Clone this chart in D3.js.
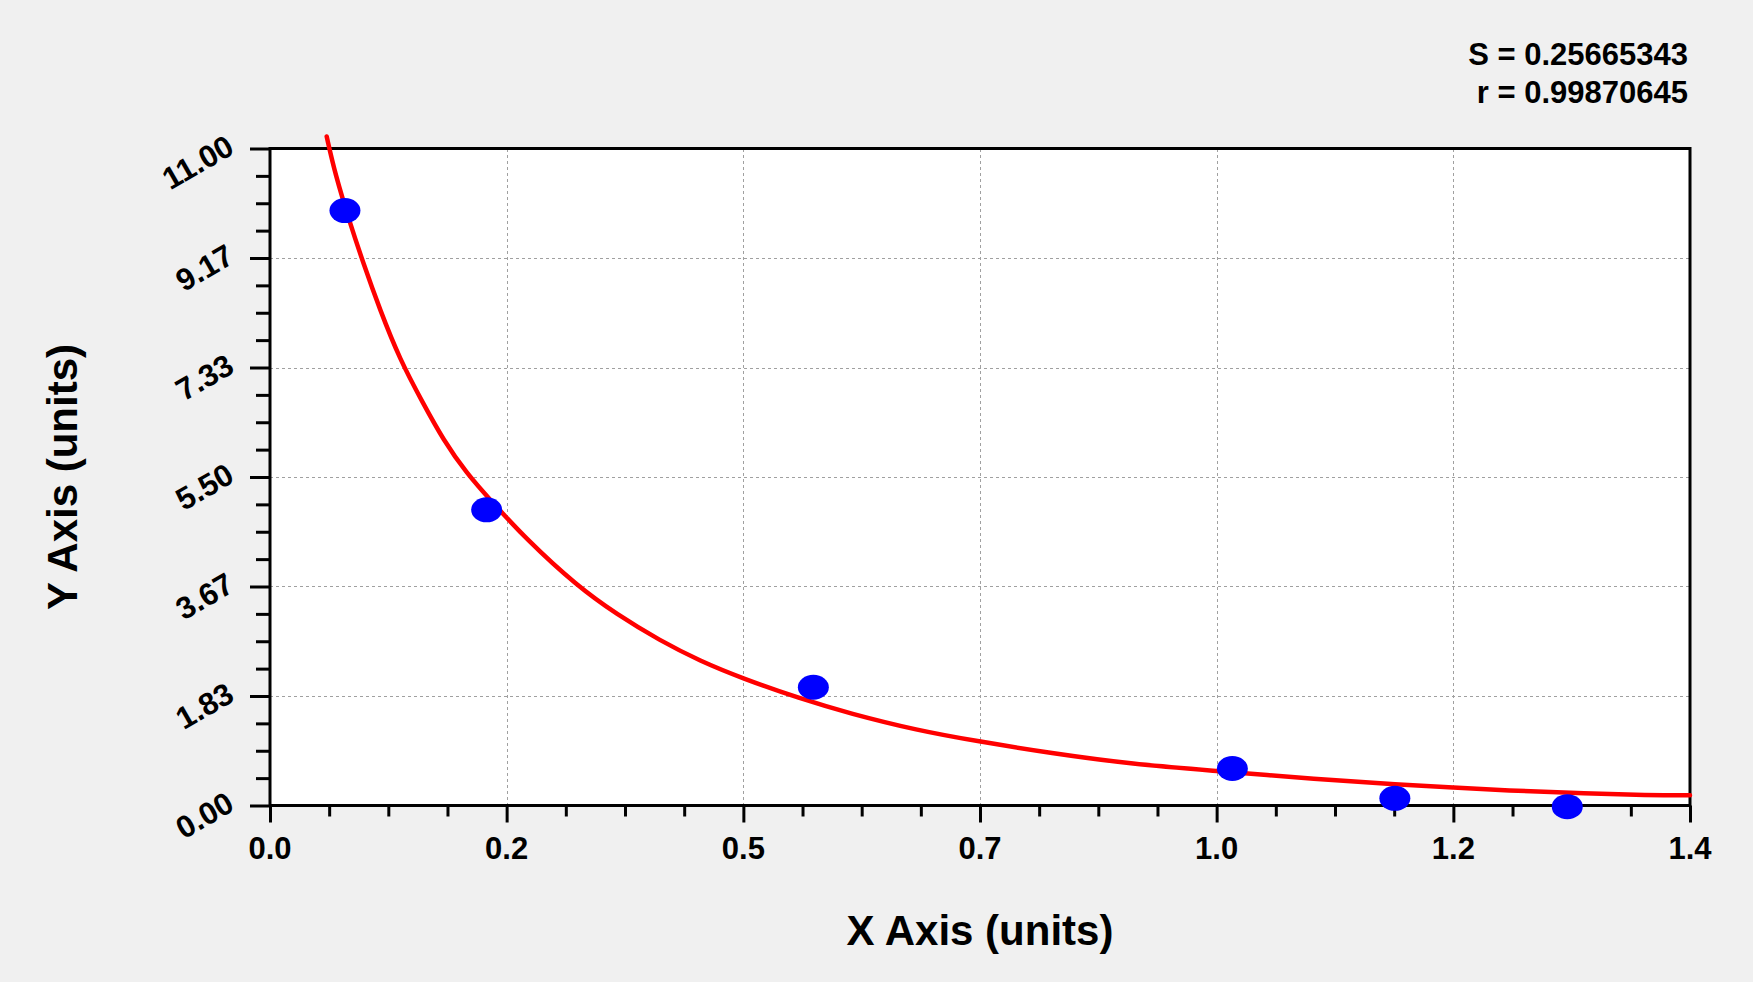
<!DOCTYPE html>
<html>
<head>
<meta charset="utf-8">
<script src="https://cdn.jsdelivr.net/npm/d3@7"></script>
<style>
  html, body { margin: 0; padding: 0; background: #f0f0f0; }
  svg { display: block; }
  text { font-family: Arial, "Liberation Sans", sans-serif; font-weight: bold; fill: #000; }
</style>
</head>
<body>
<svg id="chart" width="1753" height="982"></svg>
<script>
// ---- data ----
const pointX = [0.0739, 0.2136, 0.5357, 0.9488, 1.109, 1.279];
const pointY = [9.96, 4.95, 1.98, 0.62, 0.12, -0.02];

const curveX = [0.0559, 0.0641, 0.0789, 0.0920, 0.1084, 0.1282, 0.1511, 0.1709, 0.1939, 0.2169,
                0.2531, 0.3024, 0.3418, 0.3845, 0.4239, 0.4656, 0.5225, 0.5718, 0.6376, 0.6993,
                0.7690, 0.8511, 0.9327, 1.0319, 1.1141, 1.1666, 1.2193, 1.2883, 1.3606, 1.4];
const curveY = [11.20, 10.58, 9.75, 9.08, 8.30, 7.46, 6.73, 6.12, 5.56, 5.12,
                4.45, 3.68, 3.20, 2.76, 2.42, 2.13, 1.79, 1.54, 1.26, 1.07,
                0.88, 0.69, 0.58, 0.44, 0.35, 0.30, 0.25, 0.21, 0.17, 0.17];

const xTickValues = [0, 0.2333, 0.4667, 0.7, 0.9333, 1.1667, 1.4];
const xTickLabels = ["0.0", "0.2", "0.5", "0.7", "1.0", "1.2", "1.4"];
const yTickValues = [0, 1.8333, 3.6667, 5.5, 7.3333, 9.1667, 11];
const yTickLabels = ["0.00", "1.83", "3.67", "5.50", "7.33", "9.17", "11.00"];

const statLines = ["S = 0.25665343", "r = 0.99870645"];
const xTitle = "X Axis (units)";
const yTitle = "Y Axis (units)";

// ---- layout ----
const L = 270, R = 1690, T = 148.5, B = 805.5;
const svg = d3.select("#chart");

const x = d3.scaleLinear().domain([0, 1.4]).range([L, R]);
const y = d3.scaleLinear().domain([0, 11]).range([B, T]);

// minor ticks: 4 subdivisions per major interval
function minors(vals) {
  const out = [];
  for (let i = 0; i < vals.length - 1; i++) {
    const step = (vals[i + 1] - vals[i]) / 4;
    for (let k = 1; k < 4; k++) out.push(vals[i] + step * k);
  }
  return out;
}

// plot background
svg.append("rect").attr("x", L).attr("y", T).attr("width", R - L).attr("height", B - T)
  .attr("fill", "#fff");

// grid
const grid = svg.append("g").attr("stroke", "#a0a0a0").attr("stroke-width", 1)
  .attr("stroke-dasharray", "3,3").attr("shape-rendering", "crispEdges");
grid.selectAll("line.gx").data(xTickValues.slice(1, -1)).join("line")
  .attr("x1", d => Math.round(x(d)) + 0.5).attr("x2", d => Math.round(x(d)) + 0.5)
  .attr("y1", T).attr("y2", B);
grid.selectAll("line.gy").data(yTickValues.slice(1, -1)).join("line")
  .attr("y1", d => Math.round(y(d)) + 0.5).attr("y2", d => Math.round(y(d)) + 0.5)
  .attr("x1", L).attr("x2", R);

// axes (ticks) via d3 axes
const yAxisMajor = d3.axisLeft(y).tickValues(yTickValues).tickSize(20).tickSizeOuter(0).tickFormat("");
const yAxisMinor = d3.axisLeft(y).tickValues(minors(yTickValues)).tickSize(14).tickSizeOuter(0).tickFormat("");
const xAxisMajor = d3.axisBottom(x).tickValues(xTickValues).tickSize(17).tickSizeOuter(0).tickFormat("");
const xAxisMinor = d3.axisBottom(x).tickValues(minors(xTickValues)).tickSize(11).tickSizeOuter(0).tickFormat("");

function styleAxis(g) {
  g.select(".domain").remove();
  g.selectAll(".tick line").attr("stroke", "#000").attr("stroke-width", 3);
}
svg.append("g").attr("transform", `translate(${L},0)`).call(yAxisMajor).call(styleAxis);
svg.append("g").attr("transform", `translate(${L},0)`).call(yAxisMinor).call(styleAxis);
svg.append("g").attr("transform", `translate(0,${B})`).call(xAxisMajor).call(styleAxis);
svg.append("g").attr("transform", `translate(0,${B})`).call(xAxisMinor).call(styleAxis);

// frame
svg.append("rect").attr("x", L).attr("y", T).attr("width", R - L).attr("height", B - T)
  .attr("fill", "none").attr("stroke", "#000").attr("stroke-width", 3);

// curve
const line = d3.line().x(d => x(d[0])).y(d => y(d[1])).curve(d3.curveBasis);
svg.append("path").datum(d3.zip(curveX, curveY)).attr("d", line)
  .attr("fill", "none").attr("stroke", "#ff0000").attr("stroke-width", 4.5)
  .attr("stroke-linejoin", "round").attr("stroke-linecap", "round");

// points
svg.append("g").selectAll("ellipse").data(d3.zip(pointX, pointY)).join("ellipse")
  .attr("cx", d => x(d[0])).attr("cy", d => y(d[1]))
  .attr("rx", 15.5).attr("ry", 12.5).attr("fill", "#0000ff");

// tick labels
svg.append("g").selectAll("text").data(xTickValues).join("text")
  .attr("x", d => x(d)).attr("y", 859).attr("text-anchor", "middle")
  .attr("font-size", 31).text((d, i) => xTickLabels[i]);

svg.append("g").selectAll("text").data(yTickValues).join("text")
  .attr("transform", d => `translate(236,${y(d) + 4}) rotate(-30)`)
  .attr("text-anchor", "end").attr("font-size", 31).text((d, i) => yTickLabels[i]);

// stats
svg.append("g").selectAll("text").data(statLines).join("text")
  .attr("x", 1688).attr("y", (d, i) => 65 + i * 38).attr("text-anchor", "end")
  .attr("font-size", 31).text(d => d);

// titles
svg.append("text").attr("x", (L + R) / 2).attr("y", 945).attr("text-anchor", "middle")
  .attr("font-size", 42).text(xTitle);
svg.append("text").attr("transform", `translate(77,${(T + B) / 2}) rotate(-90)`)
  .attr("text-anchor", "middle").attr("font-size", 42).text(yTitle);
</script>
</body>
</html>
